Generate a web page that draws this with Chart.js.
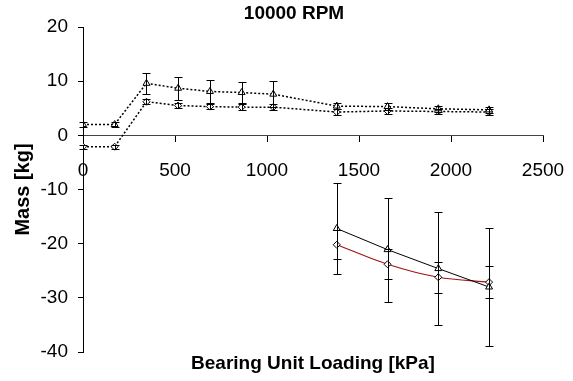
<!DOCTYPE html>
<html>
<head>
<meta charset="utf-8">
<script src="https://cdn.jsdelivr.net/npm/chart.js@4.4.0/dist/chart.umd.min.js"></script>
<style>
  html, body { margin: 0; padding: 0; background: #fff; }
</style>
</head>
<body>
<canvas id="mycanvas" width="573" height="381"></canvas>
<script>
// bearing unit loading [kPa]
var loadKpa = [0, 172, 345, 517, 690, 862, 1034, 1379, 1655, 1931, 2207];
var massTri = [2.0, 2.0, 9.6, 8.7, 8.1, 7.9, 7.6, 5.4, 5.3, 4.9, 4.7];
var errTri  = [0.4, 0.4, 2.0, 2.1, 2.2, 2.0, 2.4, 0.6, 0.6, 0.5, 0.5];
var massDia = [-2.1, -2.1, 6.2, 5.5, 5.3, 5.2, 5.2, 4.3, 4.5, 4.4, 4.3];
var errDia  = [0.4, 0.4, 0.5, 0.5, 0.5, 0.5, 0.5, 0.5, 0.5, 0.5, 0.5];

var loadLow    = [1379, 1655, 1931, 2207];
var massTriLow = [-17.2, -21.1, -24.6, -28.0];
var errTriLow  = [8.4, 9.6, 10.4, 10.9];
var massDiaLow = [-20.2, -23.8, -26.2, -27.1];
var errDiaLow  = [2.7, 2.8, 2.9, 2.9];

var xTicks = [0, 500, 1000, 1500, 2000, 2500];
var yTicks = [-40, -30, -20, -10, 0, 10, 20];

var FONT = 'Liberation Sans, Arial, sans-serif';

function pts(xs, ys) {
  var out = [];
  for (var i in xs) out.push({x: xs[i], y: ys[i]});
  return out;
}

// vertical error bars drawn through the chart scales
var errorBars = {
  id: 'errorBars',
  afterDatasetsDraw: function(chart) {
    var ctx = chart.ctx;
    var xs = chart.scales.x, ys = chart.scales.y;
    ctx.save();
    ctx.strokeStyle = '#000';
    ctx.lineWidth = 1;
    chart.data.datasets.forEach(function(ds) {
      if (!ds.errors) return;
      ds.data.forEach(function(p, i) {
        var e = ds.errors[i];
        var px = Math.round(xs.getPixelForValue(p.x)) + 0.5;
        var top = Math.round(ys.getPixelForValue(p.y + e)) + 0.5;
        var bot = Math.round(ys.getPixelForValue(p.y - e)) + 0.5;
        ctx.beginPath();
        ctx.moveTo(px, top); ctx.lineTo(px, bot);
        ctx.moveTo(px - 4, top); ctx.lineTo(px + 4, top);
        ctx.moveTo(px - 4, bot); ctx.lineTo(px + 4, bot);
        ctx.stroke();
      });
    });
    ctx.restore();
  }
};

Chart.defaults.color = '#000';
Chart.defaults.font.family = FONT;

var ctx = document.getElementById('mycanvas');
var dashboard = new Chart(ctx, {
  type: 'line',
  data: {
    datasets: [
      {
        data: pts(loadKpa, massTri), errors: errTri,
        borderColor: '#000', borderWidth: 1.5, borderDash: [2, 2],
        pointStyle: 'triangle', pointRadius: 4, pointBackgroundColor: '#fff',
        pointBorderColor: '#000', pointBorderWidth: 1, tension: 0
      },
      {
        data: pts(loadKpa, massDia), errors: errDia,
        borderColor: '#000', borderWidth: 1.5, borderDash: [2, 2],
        pointStyle: 'rectRot', pointRadius: 3.5, pointBackgroundColor: '#fff',
        pointBorderColor: '#000', pointBorderWidth: 1, tension: 0
      },
      {
        data: pts(loadLow, massTriLow), errors: errTriLow,
        borderColor: '#000', borderWidth: 1,
        pointStyle: 'triangle', pointRadius: 4, pointBackgroundColor: '#fff',
        pointBorderColor: '#000', pointBorderWidth: 1, tension: 0
      },
      {
        data: pts(loadLow, massDiaLow), errors: errDiaLow,
        borderColor: '#a01414', borderWidth: 1.2,
        pointStyle: 'rectRot', pointRadius: 3.5, pointBackgroundColor: '#fff',
        pointBorderColor: '#000', pointBorderWidth: 1, tension: 0.3
      }
    ]
  },
  options: {
    responsive: false,
    animation: false,
    devicePixelRatio: 1,
    layout: { padding: { left: 15, right: 0, top: 0, bottom: 0 } },
    plugins: {
      legend: { display: false },
      tooltip: { enabled: false },
      title: {
        display: true, text: '10000 RPM',
        font: { family: FONT, size: 19, weight: 'bold' },
        padding: { top: 2, bottom: 2.2 }
      },
      subtitle: {
        display: true, position: 'bottom', fullSize: false,
        text: 'Bearing Unit Loading [kPa]',
        font: { family: FONT, size: 19, weight: 'bold' },
        padding: { top: 0, bottom: 6.2 }
      }
    },
    scales: {
      x: {
        type: 'linear',
        position: { y: 0 },
        min: 0, max: 2500,
        afterBuildTicks: function(scale) { scale.ticks = xTicks.map(function(v) { return {value: v}; }); },
        afterFit: function(scale) { scale.paddingLeft = 0; scale.paddingRight = 0; },
        ticks: { font: { size: 19 }, padding: 18, maxRotation: 0,
                 callback: function(v) { return String(v); } },
        grid: { display: true, drawOnChartArea: false, drawTicks: true, tickLength: 6, color: '#000' },
        border: { display: true, color: '#444', width: 1 }
      },
      y: {
        type: 'linear',
        position: 'left',
        min: -40, max: 20,
        afterBuildTicks: function(scale) { scale.ticks = yTicks.map(function(v) { return {value: v}; }); },
        afterFit: function(scale) { scale.width = 68; },
        ticks: { font: { size: 19 }, padding: 10,
                 callback: function(v) { return String(v); } },
        grid: { display: true, drawOnChartArea: false, drawTicks: true, tickLength: 5, color: '#000' },
        border: { display: true, color: '#000', width: 1 },
        title: {
          display: true, text: 'Mass [kg]',
          font: { family: FONT, size: 20, weight: 'bold' },
          padding: { top: -4, bottom: 0 }
        }
      },
      // empty right-hand strip so the plot ends at 2500 like the original
      y2: {
        type: 'linear',
        position: 'right',
        display: true,
        grid: { display: false },
        ticks: { display: false },
        border: { display: false },
        afterFit: function(scale) { scale.width = 30; }
      }
    }
  },
  plugins: [errorBars]
});
</script>
</body>
</html>
